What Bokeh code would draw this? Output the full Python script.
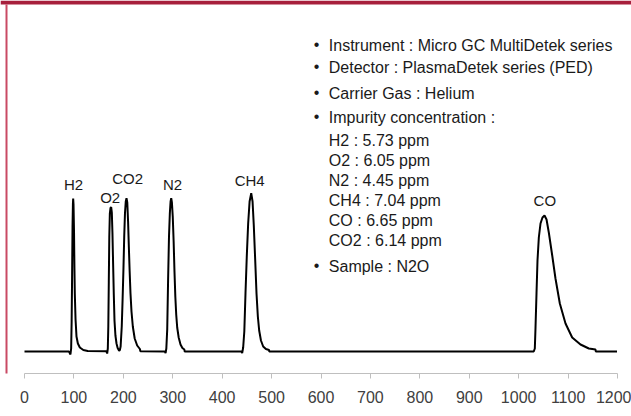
from bokeh.plotting import figure
from bokeh.models import ColumnDataSource, Range1d, FixedTicker, BoxAnnotation, Label
from bokeh.embed import file_html
from bokeh.resources import INLINE

# ---- data ----
time = [0, 90, 93, 94.4, 95.4, 96.2, 97.2, 98.0, 98.5, 99.2, 100.2, 101.0, 101.8, 103.3, 105.2, 108, 112, 119, 128,
        165.5, 167.3, 168.6, 169.6, 170.6, 171.6, 172.7, 174, 175.4, 176.7, 178, 179.3, 180.7, 182.1, 184, 186.2, 188.5, 191.5,
        193, 194.5, 196.8, 198.5, 200.2, 201.8, 203.3, 204.9, 206.4, 208, 209.6, 211.2, 212.8, 214.5, 216.5, 219.2, 223, 228, 233.5, 234.5,
        284, 285.5, 287, 288.8, 290.6, 292.4, 294.1, 295.6, 296.9, 298.3, 300, 301.8, 303.5, 305.2, 307, 309, 312, 315.7, 319.5, 323.5, 324,
        439, 440.5, 442.5, 444.8, 447.2, 449.8, 452.6, 455.5, 458.8, 461.5, 464, 466.8, 469.5, 472.2, 474.9, 478.5, 483, 488.5, 494.8, 495.4,
        1030.5, 1032.7, 1034.1, 1036.1, 1038.1, 1040.8, 1044.2, 1048.2, 1052.3, 1056.4, 1061, 1067.9, 1074.5, 1083.3, 1094.8, 1108.3,
        1125.1, 1142, 1155.5, 1156, 1199]
signal = [0, 0, -3, 3, 30, 70, 125, 148, 153, 147, 120, 85, 58, 32, 15, 8, 4, 1.5, 0.5,
          0.3, -2, 3, 25, 70, 115, 138, 143.5, 144.3, 139, 118, 88, 57, 31, 16, 8, 3.5, 0.8,
          1.5, 5, 25, 52, 82, 115, 138, 150, 153.3, 149, 130, 104, 80, 58, 40, 25, 13, 6, 2.5, 0.3,
          0, -1.5, 3, 22, 72, 115, 138, 150, 153.3, 149, 135, 110, 80, 55, 37, 24, 14, 7, 3.5, 2, 0,
          0, -1.5, 4, 20, 58, 95, 128, 150, 158.3, 150, 126, 92, 58, 35, 21, 11, 5, 2.5, 1.5, 0,
          0, 3, 24, 58, 91, 114, 128, 134, 136, 132, 119, 96, 73, 48, 28, 14,
          7, 3, 2, 0, 0]

peak_names = ["H2", "O2", "CO2", "N2", "CH4", "CO"]

info_lines = ["Instrument : Micro GC MultiDetek series",
              "Detector : PlasmaDetek series (PED)",
              "Carrier Gas : Helium",
              "Impurity concentration :"]
impurity_gases = ["H2", "O2", "N2", "CH4", "CO", "CO2"]
impurity_ppm = [5.73, 6.05, 4.45, 7.04, 6.65, 6.14]
sample_line = "Sample : N2O"

x_ticks = [0, 100, 200, 300, 400, 500, 600, 700, 800, 900, 1000, 1100, 1200]

# ---- layout / style ----
FONT = "Liberation Sans"
TXT = "#1a1a1a"
W, H = 631, 416

# peak-label anchor positions (x in time, y in signal units)
peak_label_x = [99.2, 173.4, 208.8, 299.5, 455.7, 1052.9]
peak_label_y = [167.2, 154.3, 173.5, 166.9, 171.2, 151.5]

# info-text anchor heights (signal units)
info_y = [306.3, 283.7, 258.0, 233.8]
imp_y = [211.5, 191.5, 171.5, 151.5, 131.5, 111.5]
sample_y = 85.5
bullet_x = 590.9
text_x = 615.8

p = figure(width=W, height=H, output_backend="svg", toolbar_location=None,
           x_range=Range1d(-48.57, 1228.33), y_range=Range1d(-22, 351),
           y_axis_location=None,
           min_border_left=0, min_border_right=0, min_border_top=0, min_border_bottom=43)
p.outline_line_color = None
p.background_fill_color = "white"
p.border_fill_color = "white"
p.xgrid.visible = False
p.ygrid.visible = False

ax = p.xaxis[0]
ax.ticker = FixedTicker(ticks=x_ticks)
ax.bounds = (0, 1200)
ax.axis_line_color = "#bfbfbf"
ax.axis_line_width = 1
ax.major_tick_line_color = "#bfbfbf"
ax.major_tick_out = 5
ax.major_tick_in = 0
ax.minor_tick_line_color = None
ax.major_label_text_font = FONT
ax.major_label_text_font_size = "16px"
ax.major_label_text_color = "#404040"
ax.major_label_standoff = 12

src = ColumnDataSource(dict(t=time, s=signal))
p.line("t", "s", source=src, line_color="black", line_width=2)

for name, lx, ly in zip(peak_names, peak_label_x, peak_label_y):
    p.add_layout(Label(x=lx, y=ly, text=name, text_align="center", text_baseline="alphabetic",
                       text_font=FONT, text_font_size="15px", text_color=TXT))

for line, y in zip(info_lines, info_y):
    p.add_layout(Label(x=bullet_x, y=y + 1, text="•", text_align="center", text_baseline="alphabetic",
                       text_font=FONT, text_font_size="16px", text_color=TXT))
    p.add_layout(Label(x=text_x, y=y, text=line, text_align="left", text_baseline="alphabetic",
                       text_font=FONT, text_font_size="16px", text_color=TXT))

for gas, ppm, y in zip(impurity_gases, impurity_ppm, imp_y):
    p.add_layout(Label(x=text_x, y=y, text=f"{gas} :  {ppm:.2f} ppm", text_align="left",
                       text_baseline="alphabetic", text_font=FONT, text_font_size="16px", text_color=TXT))

p.add_layout(Label(x=bullet_x, y=sample_y + 1, text="•", text_align="center", text_baseline="alphabetic",
                   text_font=FONT, text_font_size="16px", text_color=TXT))
p.add_layout(Label(x=text_x, y=sample_y, text=sample_line, text_align="left", text_baseline="alphabetic",
                   text_font=FONT, text_font_size="16px", text_color=TXT))

# decorative frame: dark red top band and thin red left rule
p.add_layout(BoxAnnotation(left=0, right=W, top=0, bottom=4,
                           left_units="canvas", right_units="canvas", top_units="canvas", bottom_units="canvas",
                           fill_color="#a71f3c", fill_alpha=1, line_alpha=0))
p.add_layout(BoxAnnotation(left=5, right=7, top=4, bottom=H,
                           left_units="canvas", right_units="canvas", top_units="canvas", bottom_units="canvas",
                           fill_color="#c94a64", fill_alpha=1, line_alpha=0))

open("out.html", "w").write(file_html(p, INLINE))
